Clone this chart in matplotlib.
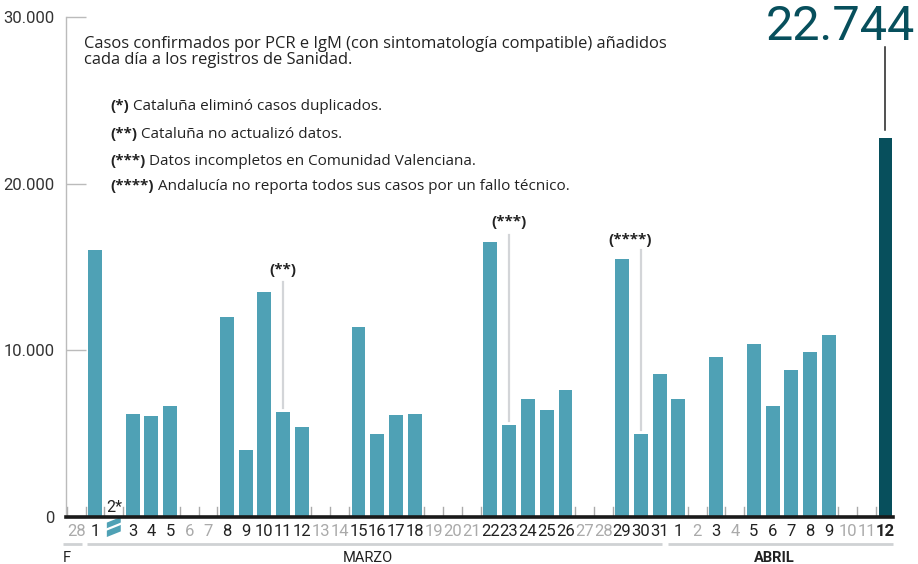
import matplotlib
matplotlib.use("Agg")
import matplotlib.pyplot as plt
from matplotlib.patches import Polygon
import matplotlib.transforms as mtransforms

plt.rcParams['font.family'] = ['Roboto', 'DejaVu Sans']
TEXT_FONT = ['Open Sans', 'DejaVu Sans']

# ---- data -------------------------------------------------------------
day_labels = ['28', '1', '2', '3', '4', '5', '6', '7', '8', '9', '10', '11', '12',
              '13', '14', '15', '16', '17', '18', '19', '20', '21', '22', '23', '24',
              '25', '26', '27', '28', '29', '30', '31',
              '1', '2', '3', '4', '5', '6', '7', '8', '9', '10', '11', '12']
values = [0, 16000, -1200, 6200, 6050, 6650, 0, 0, 12000, 4000, 13500, 6300, 5400,
          0, 0, 11400, 5000, 6100, 6200, 0, 0, 0, 16500, 5500, 7100,
          6400, 7600, 0, 0, 15500, 5000, 8600,
          7100, 0, 9600, 0, 10400, 6650, 8800, 9900, 10900, 0, 0, 22744]
months = ['F', 'MARZO', 'ABRIL']
yticks = [0, 10000, 20000, 30000]
ytick_labels = ['0', '10.000', '20.000', '30.000']
notes_bold = ['(*)', '(**)', '(***)', '(****)']
notes_text = ['Cataluña eliminó casos duplicados.',
              'Cataluña no actualizó datos.',
              'Datos incompletos en Comunidad Valenciana.',
              'Andalucía no reporta todos sus casos por un fallo técnico.']
# annotated bars: (index, label)
flags = [(11, '(**)'), (23, '(***)'), (30, '(****)')]
title_lines = ['Casos confirmados por PCR e IgM (con sintomatología compatible) añadidos',
               'cada día a los registros de Sanidad.']
last_value_label = '22.744'

# ---- style ------------------------------------------------------------
BAR = '#4fa1b5'
LAST = '#074f5c'
TXT = '#222222'
GRAY = '#aaaaaa'
W, H = 918, 564
bar_w = 0.74

fig = plt.figure(figsize=(W / 100, H / 100), dpi=100)
ax = fig.add_axes([66 / W, 47 / H, 827 / W, 500 / H])
ax.set_xlim(-0.54, 43.4)
ax.set_ylim(0, 30000)

n = len(values)
xs = list(range(n))
pos_vals = [v if v > 0 else 0 for v in values]
colors = [BAR] * (n - 1) + [LAST]
ax.bar(xs, pos_vals, width=bar_w, color=colors, zorder=3, linewidth=0)

# negative (corrected) bar for day 2, drawn as a slanted broken shape
for i, v in enumerate(values):
    if v < 0:
        x0, x1 = i - bar_w / 2, i + bar_w / 2
        sl = -v * 0.28
        poly = Polygon([(x0, -sl), (x1, 0), (x1, v + sl), (x0, v)],
                       closed=True, color=BAR, clip_on=False, zorder=3, lw=0)
        ax.add_patch(poly)
        ax.plot([x0, x1], [v * 0.62, v * 0.62 + sl], color='white', lw=1.6,
                clip_on=False, zorder=4)
        ax.text(i, 120, day_labels[i] + '*', ha='center', va='bottom',
                fontsize=11.5, color=TXT, zorder=4)

# small separators above the baseline next to empty days
for i in range(-1, n):
    left_empty = i < 0 or values[i] <= 0
    right_empty = i + 1 >= n or values[i + 1] <= 0
    if left_empty or right_empty:
        ax.plot([i + 0.5, i + 0.5], [0, 620], color=GRAY, lw=1, zorder=2)

# baseline
ax.axhline(0, color='#1a1a1a', lw=2.6, zorder=6, clip_on=False)

# spines / y axis
for s in ['top', 'right', 'bottom']:
    ax.spines[s].set_visible(False)
ax.spines['left'].set_color('#bbbbbb')
ax.spines['left'].set_linewidth(1)
ax.set_yticks(yticks)
ax.set_yticklabels(ytick_labels)
ax.tick_params(axis='y', direction='in', length=14.5, width=1, color='#bbbbbb',
               pad=8, labelsize=12, labelcolor='#333333')

# x tick labels
ax.set_xticks(xs)
ax.set_xticklabels(['' if v < 0 else d for d, v in zip(day_labels, values)])
ax.tick_params(axis='x', length=0, pad=5, labelsize=12)
for i, lab in enumerate(ax.get_xticklabels()):
    lab.set_color(TXT if values[i] > 0 else GRAY)
    if i == n - 1:
        lab.set_fontweight('bold')

# month group lines and labels
trans = mtransforms.blended_transform_factory(ax.transData, ax.transAxes)
groups = [(-0.70, 0.31), (0.57, 31.1), (31.45, 43.4)]
label_x = [-0.70, 15.5, 37.1]
for (a, b), name, lx in zip(groups, months, label_x):
    ax.plot([a, b], [-0.054, -0.054], color='#cfd2d4', lw=2, transform=trans,
            clip_on=False, solid_capstyle='butt')
    ax.text(lx, -0.083, name, transform=trans, ha='left' if name == 'F' else 'center',
            va='center', fontsize=10.5, color=TXT,
            fontweight='bold' if name == 'ABRIL' else 'normal')

# flagged bars
flag_pos = {11: (0.0, 14800, 14100), 23: (0.0, 17700, 16900), 30: (-0.55, 16600, 16000)}
for i, lab in flags:
    dx, ty, top = flag_pos[i]
    ax.plot([i, i], [values[i] + 250, top], color='#d3d5d8', lw=1.6, zorder=2)
    ax.text(i + dx, ty, lab, ha='center', va='center', fontsize=11,
            fontweight='bold', color=TXT, family=TEXT_FONT)

# last bar callout
ax.plot([n - 1, n - 1], [values[-1] + 450, 28200], color='#222222', lw=1.1,
        clip_on=False, zorder=3)
fig.text(915 / W, 1 - 40 / H, last_value_label, ha='right', va='baseline',
         fontsize=35, color=LAST)

# title
for k, line in enumerate(title_lines):
    fig.text(84 / W, 1 - (48 + 16 * k) / H, line, ha='left', va='baseline',
             fontsize=11.9, color=TXT, family=TEXT_FONT)

# notes
note_y = [110, 138, 165, 190]
bold_texts, reg_texts = [], []
for b, t, y in zip(notes_bold, notes_text, note_y):
    tb = fig.text(110 / W, 1 - y / H, b, ha='left', va='baseline', fontsize=11,
                  fontweight='bold', color=TXT, family=TEXT_FONT)
    tr = fig.text(0, 1 - y / H, t, ha='left', va='baseline', fontsize=11,
                  color=TXT, family=TEXT_FONT)
    bold_texts.append(tb)
    reg_texts.append(tr)

fig.canvas.draw()
renderer = fig.canvas.get_renderer()
for tb, tr in zip(bold_texts, reg_texts):
    bb = tb.get_window_extent(renderer)
    tr.set_position(((bb.x1 + 4) / W, tb.get_position()[1]))

fig.savefig('out.png', dpi=100)
